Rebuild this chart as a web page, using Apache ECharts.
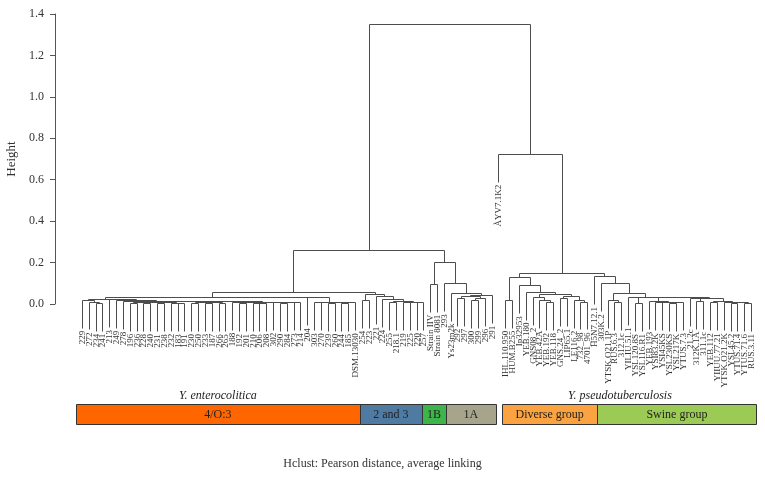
<!DOCTYPE html>
<html><head><meta charset="utf-8">
<script src="https://cdn.jsdelivr.net/npm/echarts@6/dist/echarts.min.js"></script>
<style>html,body{margin:0;padding:0;background:#fff}#c{width:765px;height:491px}</style>
</head><body><div id="c"></div><script>
// ---------- DATA ----------
const leafLabels = ['229','272','234','241','213','249','278','196','236','228','240','231','238','232','183','191','230','250','233','187','266','265','188','192','201','210','206','208','302','290','284','273','214','204','303','270','239','260','244','185','DSM.13030','254','223','221','224','255','218.1','219','225','220','257','Strain IIV','Strain 8081','293','Ys23m2k','292','297','300','299','296','291','ÀYV7.1K2','IHL.110.950','HUM.B255','Ip32953','YEB.180','GNS08_2','YEB.42A','YEB.192','YEB.118','GNS.24_2','LIP65.1','LE116.2','732_98','4701_96','H5N7.12.1','303K.2','YTSK.O21.1P','RUS.6.3','312.1c','YILIU.51.1','YSL120.8S','YSL116.R1','YEB.193','YSI83.2K','YSI45KS','YSL230KS','YSL217K','YTUS.7.3','21.2c','312K.1A','311.1c','YEB.112','YIIUU.77.21','YTSK.O21.2K','YSL45.2','YTUS.71.4','YTUS.71.6','RUS.3.11'];

// merges: [left, right, height]; numbers are leaf positions (1-based) in leafLabels
const nodeN14 = [1, [2, [3, 4, 0.006], 0.012], 0.02];
const nodeP = [[8, 9, 0.006], [[10, 11, 0.005], [[12, 13, 0.004], [14, [15, 16, 0.003], 0.006], 0.008], 0.01], 0.012];
const nodeQ1 = [[17, 18, 0.005], [[19, 20, 0.006], [21, 22, 0.004], 0.008], 0.01];
const nodeQ2a = [23, [[24, 25, 0.005], [[26, 27, 0.004], 28, 0.006], 0.008], 0.011];
const nodeQ2b = [29, [[30, 31, 0.006], [32, 33, 0.008], 0.009], 0.011];
const nodeRest = [nodeP, [nodeQ1, [nodeQ2a, nodeQ2b, 0.012], 0.013], 0.014];
const nodeD1 = [nodeN14, [5, [6, [7, nodeRest, 0.016], 0.02], 0.024], 0.026];
const nodeX = [[35, 36, 0.008], [[37, 38, 0.006], [[39, 40, 0.005], 41, 0.008], 0.01], 0.012];
const nodeD = [nodeD1, [34, nodeX, 0.033], 0.035];
const nodeE = [[42, 43, 0.02], [44, [45, [[46, 47, 0.01], [[48, 49, 0.008], [50, 51, 0.01], 0.012], 0.013], 0.025], 0.04], 0.05];
const nodeW = [[[56, 57, 0.03], [[58, 59, 0.02], 60, 0.03], 0.04], 61, 0.045];
const nodeC = [[52, 53, 0.097], [54, [55, nodeW, 0.055], 0.10], 0.203];
const nodeL = [[nodeD, nodeE, 0.058], nodeC, 0.26];

const nodeY = [[67, [68, [69, 70, 0.01], 0.02], 0.035], [[71, 72, 0.03], [73, [74, 75, 0.012], 0.02], 0.04], 0.05];
const nodeRL = [[63, 64, 0.02], [65, [66, nodeY, 0.06], 0.09], 0.128];
const nodeZ4 = [[84, [[85, 86, 0.008], [[87, 88, 0.006], 89, 0.01], 0.012], 0.016],
                [[90, [91, 92, 0.015], 0.028], [[93, 94, 0.008], [95, [[96, 97, 0.006], [98, 99, 0.005], 0.008], 0.01], 0.014], 0.03], 0.032];
const nodeZ = [[78, [79, 80, 0.01], 0.02], [81, [[82, 83, 0.005], nodeZ4, 0.034], 0.036], 0.052];
const nodeRR = [76, [77, nodeZ, 0.10], 0.135];
const nodeR = [62, [nodeRL, nodeRR, 0.148], 0.725];
const dendrogram = [nodeL, nodeR, 1.35];

const yTickValues = [0, 0.2, 0.4, 0.6, 0.8, 1.0, 1.2, 1.4];

const groupNames = ['4/O:3', '2 and 3', '1B', '1A', 'Diverse group', 'Swine group'];
const groupStart = [0.12, 41.7, 50.8, 54.3, 62.5, 76.5];
const groupEnd   = [41.7, 50.8, 54.3, 61.6, 76.5, 99.8];
const speciesNames = ['Y. enterocolitica', 'Y. pseudotuberculosis'];
const speciesAt = [20.9, 79.8];
const captionText = 'Hclust: Pearson distance, average linking';

// ---------- STYLE ----------
const HANG = 0.135;
const groupColors = ['#FF6600', '#4F7BA3', '#3DB54A', '#A6A58C', '#FBA341', '#9CCB55'];
const LINE = '#4d4d4d';
const SERIF = '"Liberation Serif", "DejaVu Serif", serif';

// ---------- BUILD ----------
const segments = [];
const leafEnds = [];
function layout(node) {
  if (typeof node === 'number') return { x: node, h: null };
  const A = layout(node[0]), B = layout(node[1]), h = node[2];
  [A, B].forEach(c => {
    const bottom = c.h === null ? h - HANG : c.h;
    segments.push([c.x, h, c.x, bottom]);
    if (c.h === null) leafEnds.push([c.x, h - HANG]);
  });
  segments.push([A.x, h, B.x, h]);
  return { x: (A.x + B.x) / 2, h: h };
}
layout(dendrogram);

const groupData = groupNames.map((n, i) => [groupStart[i], groupEnd[i], i]);
const speciesData = speciesNames.map((n, i) => [speciesAt[i], 0, i]);
const r = v => Math.round(v) + 0.5;

const chart = echarts.init(document.getElementById('c'));
chart.setOption({
  animation: false,
  grid: { left: 82, right: 14, top: 14, bottom: 187, outerBoundsMode: 'none', containLabel: false },
  xAxis: { type: 'value', min: 1, max: 99, show: false },
  yAxis: {
    type: 'value', min: 0, max: 1.4, interval: 0.2, offset: 27,
    axisLine: { show: true, lineStyle: { color: '#555', width: 1 } },
    axisTick: { show: true, inside: false, length: 5, lineStyle: { color: '#555' } },
    axisLabel: { margin: 11, color: '#333', fontFamily: SERIF, fontSize: 12,
                 formatter: v => yTickValues.includes(+v.toFixed(1)) ? v.toFixed(1) : '' },
    splitLine: { show: false },
    name: 'Height', nameLocation: 'middle', nameGap: 34, nameRotate: 90,
    nameTextStyle: { color: '#333', fontFamily: SERIF, fontSize: 13 }
  },
  series: [
    {
      type: 'custom', clip: false, silent: true, data: segments,
      encode: { x: [0, 2], y: [1, 3] },
      renderItem: (params, api) => {
        const p1 = api.coord([api.value(0), api.value(1)]);
        const p2 = api.coord([api.value(2), api.value(3)]);
        return { type: 'line', shape: { x1: r(p1[0]), y1: r(p1[1]), x2: r(p2[0]), y2: r(p2[1]) },
                 style: { stroke: LINE, lineWidth: 1 } };
      }
    },
    {
      type: 'custom', clip: false, silent: true, data: leafEnds,
      encode: { x: 0, y: 1 },
      renderItem: (params, api) => {
        const p = api.coord([api.value(0), api.value(1)]);
        return { type: 'text', x: r(p[0]), y: p[1] + 3, rotation: Math.PI / 2,
                 style: { text: leafLabels[api.value(0) - 1], font: '9px ' + SERIF, fill: '#333',
                          align: 'right', verticalAlign: 'middle' } };
      }
    },
    {
      type: 'custom', clip: false, silent: true, data: groupData,
      encode: { x: [0, 1] },
      renderItem: (params, api) => {
        const x1 = api.coord([api.value(0), 0])[0];
        const x2 = api.coord([api.value(1), 0])[0];
        const i = api.value(2);
        return { type: 'group', children: [
          { type: 'rect', shape: { x: r(x1), y: 404.5, width: Math.round(x2) - Math.round(x1), height: 20 },
            style: { fill: groupColors[i], stroke: '#333', lineWidth: 1 } },
          { type: 'text', x: (x1 + x2) / 2, y: 415,
            style: { text: groupNames[i], font: '12px ' + SERIF, fill: '#222', align: 'center', verticalAlign: 'middle' } }
        ] };
      }
    },
    {
      type: 'custom', clip: false, silent: true, data: speciesData,
      encode: { x: 0 },
      renderItem: (params, api) => {
        const x = api.coord([api.value(0), 0])[0];
        return { type: 'text', x: x, y: 396,
                 style: { text: speciesNames[api.value(2)], font: 'italic 12px ' + SERIF, fill: '#222',
                          align: 'center', verticalAlign: 'middle' } };
      }
    }
  ],
  graphic: [{ type: 'text', left: 'center', top: 458,
              style: { text: captionText, font: '12px ' + SERIF, fill: '#333' } }]
});
</script></body></html>
